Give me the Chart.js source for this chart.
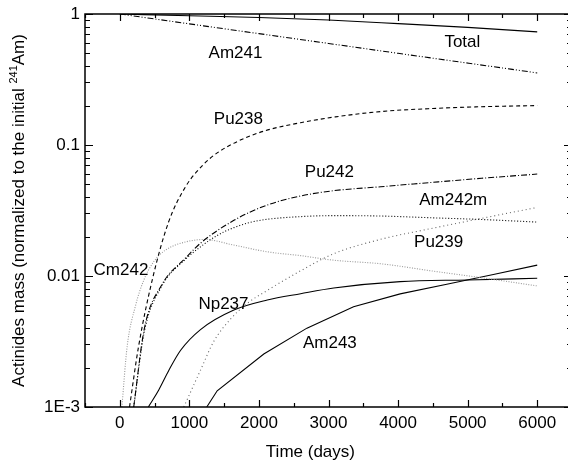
<!DOCTYPE html>
<html>
<head>
<meta charset="utf-8">
<title>Actinides mass vs time</title>
<script src="https://cdn.jsdelivr.net/npm/chart.js@4.4.0/dist/chart.umd.min.js"></script>
<style>
  body { margin: 0; overflow: hidden; background: #fff; }
  #wrap { width: 572px; height: 466px; }
</style>
</head>
<body>
<div id="wrap"><canvas id="chart"></canvas></div>
<script>
// axis ticks
const xTicks = [0, 1000, 2000, 3000, 4000, 5000, 6000];
const yTicks = [0.001, 0.01, 0.1, 1];
const yTickLabels = ['1E-3', '0.01', '0.1', '1'];

// series (days, mass normalized to initial Am241)
const totalDays = [0, 1000, 2000, 3000, 4000, 5000, 6000];
const totalMass = [1.0, 0.97, 0.94, 0.90, 0.845, 0.79, 0.73];

const am241Days = [0, 1000, 2000, 3000, 4000, 5000, 6000];
const am241Mass = [1.0, 0.841, 0.708, 0.596, 0.501, 0.422, 0.355];

const pu238Days = [140, 270, 480, 700, 945, 1200, 1400, 1700, 2100, 2600, 3100, 3750, 4500, 5200, 6000];
const pu238Mass = [0.001, 0.0029, 0.01, 0.0257, 0.048, 0.0708, 0.087, 0.107, 0.129, 0.148, 0.164, 0.18, 0.19, 0.196, 0.2];

const pu242Days = [200, 350, 600, 950, 1160, 1640, 2120, 2600, 3075, 3750, 4500, 5200, 6000];
const pu242Mass = [0.001, 0.0039, 0.0085, 0.0138, 0.0178, 0.0266, 0.0348, 0.0408, 0.0448, 0.048, 0.0519, 0.0557, 0.060];

const am242mDays = [200, 350, 600, 950, 1160, 1400, 1640, 1880, 2120, 2600, 3075, 3750, 4500, 5200, 6000];
const am242mMass = [0.001, 0.0037, 0.0083, 0.0135, 0.0167, 0.0204, 0.0234, 0.0257, 0.0271, 0.0284, 0.0289, 0.0287, 0.0278, 0.0270, 0.0258];

const pu239Days = [920, 1160, 1350, 1590, 1830, 2120, 2600, 3075, 3750, 4500, 5200, 6000];
const pu239Mass = [0.001, 0.00191, 0.00316, 0.00468, 0.00617, 0.00776, 0.01096, 0.01479, 0.01905, 0.02317, 0.02754, 0.0334];

const cm242Days = [30, 106, 225, 345, 490, 660, 945, 1230, 1600, 2120, 2600, 3075, 3750, 4500, 5200, 6000];
const cm242Mass = [0.001, 0.0029, 0.0059, 0.0093, 0.0129, 0.0158, 0.0182, 0.019, 0.0174, 0.0153, 0.0143, 0.0132, 0.0124, 0.0109, 0.0097, 0.0084];

const np237Days = [410, 560, 704, 872, 1160, 1640, 2120, 2600, 3075, 4030, 5000, 6000];
const np237Mass = [0.001, 0.00135, 0.0019, 0.0027, 0.0039, 0.0055, 0.00656, 0.00733, 0.0081, 0.00906, 0.00933, 0.0096];

const am243Days = [1250, 1400, 2070, 2690, 3360, 4030, 4700, 5370, 6000];
const am243Mass = [0.001, 0.00133, 0.00254, 0.0040, 0.00582, 0.0073, 0.00865, 0.01026, 0.0121];

function pts(days, mass) {
    return days.map((d, i) => ({ x: d, y: mass[i] }));
}

function line(days, mass, color, dash, smooth) {
    return {
        data: pts(days, mass),
        borderColor: color,
        borderDash: dash,
        borderWidth: 1.1,
        pointRadius: 0,
        fill: false,
        cubicInterpolationMode: smooth ? 'monotone' : 'default',
        tension: 0
    };
}

const datasets = [
    line(totalDays, totalMass, '#000', [], true),
    line(am241Days, am241Mass, '#000', [6, 2, 1, 2, 1, 2], true),
    line(pu238Days, pu238Mass, '#000', [4, 3], true),
    line(pu242Days, pu242Mass, '#000', [6, 2, 1, 2], true),
    line(am242mDays, am242mMass, '#000', [1, 2], true),
    line(pu239Days, pu239Mass, '#666', [1, 3], true),
    line(cm242Days, cm242Mass, '#999', [1, 1.5], true),
    line(np237Days, np237Mass, '#000', [], true),
    line(am243Days, am243Mass, '#000', [], false)
];

// curve names, anchored in data units
const curveLabels = [
    { text: 'Total', x: 4924, y: 0.611 },
    { text: 'Am241', x: 1663, y: 0.5 },
    { text: 'Pu238', x: 1705, y: 0.158 },
    { text: 'Pu242', x: 3013, y: 0.0617 },
    { text: 'Am242m', x: 4793, y: 0.038 },
    { text: 'Pu239', x: 4583, y: 0.018 },
    { text: 'Cm242', x: 17, y: 0.0111 },
    { text: 'Np237', x: 1490, y: 0.0061 },
    { text: 'Am243', x: 3020, y: 0.00305 }
];

const FONT = '"Liberation Sans", Arial, sans-serif';

const framePlugin = {
    id: 'frame',
    afterDraw(chart) {
        const { ctx, chartArea: a, scales: { x, y } } = chart;
        ctx.save();
        ctx.strokeStyle = '#000';
        ctx.lineWidth = 1.5;
        // left, top, bottom sides; the right side falls outside the picture
        ctx.beginPath();
        ctx.moveTo(a.right + 2, a.top);
        ctx.lineTo(a.left, a.top);
        ctx.lineTo(a.left, a.bottom);
        ctx.lineTo(a.right + 2, a.bottom);
        ctx.stroke();

        // inward ticks
        ctx.lineWidth = 1.2;
        ctx.beginPath();
        for (let v = -500; v <= 6500; v += 500) {
            const px = Math.round(x.getPixelForValue(v)) + 0.5;
            const len = v % 1000 === 0 ? 7 : 4;
            ctx.moveTo(px, a.bottom); ctx.lineTo(px, a.bottom - len);
            ctx.moveTo(px, a.top); ctx.lineTo(px, a.top + len);
        }
        for (const dec of [0.001, 0.01, 0.1]) {
            for (let k = 1; k <= 10; k++) {
                const py = Math.round(y.getPixelForValue(dec * k)) + 0.5;
                const len = (k === 1 || k === 10) ? 8 : 5;
                ctx.moveTo(a.left, py); ctx.lineTo(a.left + len, py);
                ctx.moveTo(a.right, py); ctx.lineTo(a.right - len, py);
            }
        }
        ctx.stroke();

        // curve names
        ctx.fillStyle = '#000';
        ctx.font = '17px ' + FONT;
        ctx.textAlign = 'center';
        ctx.textBaseline = 'middle';
        for (const l of curveLabels) {
            ctx.fillText(l.text, x.getPixelForValue(l.x), y.getPixelForValue(l.y));
        }

        // x title
        ctx.fillText('Time (days)', x.getPixelForValue(2740), 452);

        // y title with superscript
        const main = 'Actinides mass (normalized to the initial ';
        const sup = '241';
        const tail = 'Am)';
        ctx.font = '17px ' + FONT;
        const w1 = ctx.measureText(main).width;
        const w3 = ctx.measureText(tail).width;
        ctx.font = '11px ' + FONT;
        const w2 = ctx.measureText(sup).width;
        const total = w1 + w2 + w3;
        ctx.translate(18, (a.top + a.bottom) / 2);
        ctx.rotate(-Math.PI / 2);
        ctx.textAlign = 'left';
        ctx.textBaseline = 'alphabetic';
        let sx = -total / 2;
        ctx.font = '17px ' + FONT;
        ctx.fillText(main, sx, 6);
        sx += w1;
        ctx.font = '11px ' + FONT;
        ctx.fillText(sup, sx, -1);
        sx += w2;
        ctx.font = '17px ' + FONT;
        ctx.fillText(tail, sx, 6);
        ctx.restore();
    }
};

new Chart(document.getElementById('chart'), {
    type: 'line',
    data: { datasets: datasets },
    options: {
        responsive: true,
        maintainAspectRatio: false,
        animation: false,
        layout: { padding: { top: 14, right: 0, left: 0, bottom: 0 } },
        plugins: { legend: { display: false }, tooltip: { enabled: false } },
        scales: {
            x: {
                type: 'linear',
                min: -500,
                max: 6500,
                afterBuildTicks: s => { s.ticks = xTicks.map(v => ({ value: v })); },
                afterFit: s => { s.height = 59; s.paddingLeft = 0; s.paddingRight = 0; },
                grid: { display: false, drawTicks: false },
                border: { display: false },
                ticks: {
                    color: '#000',
                    font: { family: FONT, size: 17 },
                    padding: 6,
                    maxRotation: 0,
                    autoSkip: false,
                    callback: v => String(v)
                }
            },
            y: {
                type: 'logarithmic',
                min: 0.001,
                max: 1,
                afterBuildTicks: s => { s.ticks = yTicks.map(v => ({ value: v })); },
                afterFit: s => { s.width = 85; s.paddingTop = 0; s.paddingBottom = 0; },
                grid: { display: false, drawTicks: false },
                border: { display: false },
                ticks: {
                    color: '#000',
                    font: { family: FONT, size: 17 },
                    padding: 5,
                    autoSkip: false,
                    callback: (v, i) => yTickLabels[i]
                }
            }
        }
    },
    plugins: [framePlugin]
});
</script>
</body>
</html>
